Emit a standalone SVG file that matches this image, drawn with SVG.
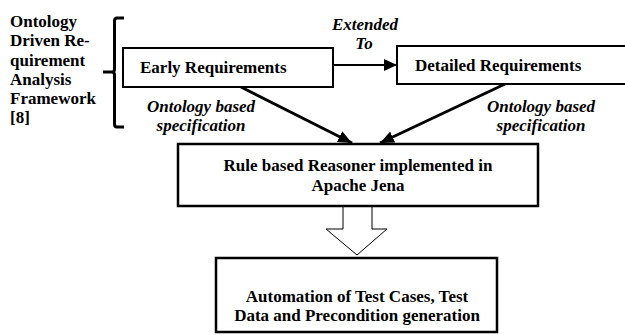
<svg xmlns="http://www.w3.org/2000/svg" width="625" height="335" viewBox="0 0 625 335">
<defs>
<style>
text{font-family:'Liberation Serif',serif;font-size:17px;font-weight:bold;fill:#000}
.i{font-style:italic}
.box{fill:#fff;stroke:#000}
.c{text-anchor:middle}
</style>
<marker id="ah" viewBox="0 0 14 12" refX="14" refY="6" markerWidth="14" markerHeight="12" markerUnits="userSpaceOnUse" orient="auto">
<path d="M0,0 L14,6 L0,12 Z" fill="#000"/>
</marker>
<marker id="ahs" viewBox="0 0 13 12" refX="13" refY="6" markerWidth="13" markerHeight="12" markerUnits="userSpaceOnUse" orient="auto">
<path d="M0,0 L13,6 L0,12 Z" fill="#000"/>
</marker>
</defs>
<rect width="625" height="335" fill="#fff"/>
<g id="framework-label" font-family="Liberation Serif, serif">
<text x="10" y="27">Ontology</text>
<text x="10" y="46">Driven Re-</text>
<text x="10" y="66">quirement</text>
<text x="10" y="85">Analysis</text>
<text x="10" y="104">Framework</text>
<text x="10" y="123">[8]</text>
<path d="M124,18 L117,18 Q114.5,18 114.5,21 L114.5,69 Q114.5,72 112,72 L103,72 M112,72 Q114.5,72 114.5,75 L114.5,124 Q114.5,127 117,127 L124,127" fill="none" stroke="#000" stroke-width="3"/>
</g>
<g id="connectors" font-family="Liberation Serif, serif">
<line x1="333" y1="65" x2="397" y2="65" stroke="#000" stroke-width="2" marker-end="url(#ahs)"/>
<line x1="241" y1="87" x2="352" y2="143" stroke="#000" stroke-width="3" marker-end="url(#ah)"/>
<line x1="505" y1="84" x2="380" y2="143" stroke="#000" stroke-width="3" marker-end="url(#ah)"/>
<path d="M343,206 L343,229 L326,229 L357,255 L387,229 L372,229 L372,206" fill="#fff" stroke="#000" stroke-width="1"/>
<text class="i c" x="365" y="30">Extended</text>
<text class="i c" x="364" y="49">To</text>
<text class="i c" x="201" y="112">Ontology based</text>
<text class="i c" x="201" y="131">specification</text>
<text class="i c" x="541" y="112">Ontology based</text>
<text class="i c" x="541" y="131">specification</text>
</g>
<g id="early" font-family="Liberation Serif, serif">
<rect class="box" x="123" y="48" width="210" height="39" stroke-width="2"/>
<text x="140" y="73">Early Requirements</text>
</g>
<g id="detailed" font-family="Liberation Serif, serif">
<rect class="box" x="397" y="46" width="240" height="38" stroke-width="2"/>
<text x="415" y="71">Detailed Requirements</text>
</g>
<g id="reasoner" font-family="Liberation Serif, serif">
<rect class="box" x="178" y="144" width="360" height="62" stroke-width="2.5"/>
<text class="c" x="358" y="171">Rule based Reasoner implemented in</text>
<text class="c" x="358" y="191">Apache Jena</text>
</g>
<g id="automation" font-family="Liberation Serif, serif">
<rect class="box" x="216" y="258" width="281" height="74" stroke-width="2.5"/>
<text class="c" x="357" y="302">Automation of Test Cases, Test</text>
<text class="c" x="357" y="321">Data and Precondition generation</text>
</g>
</svg>
